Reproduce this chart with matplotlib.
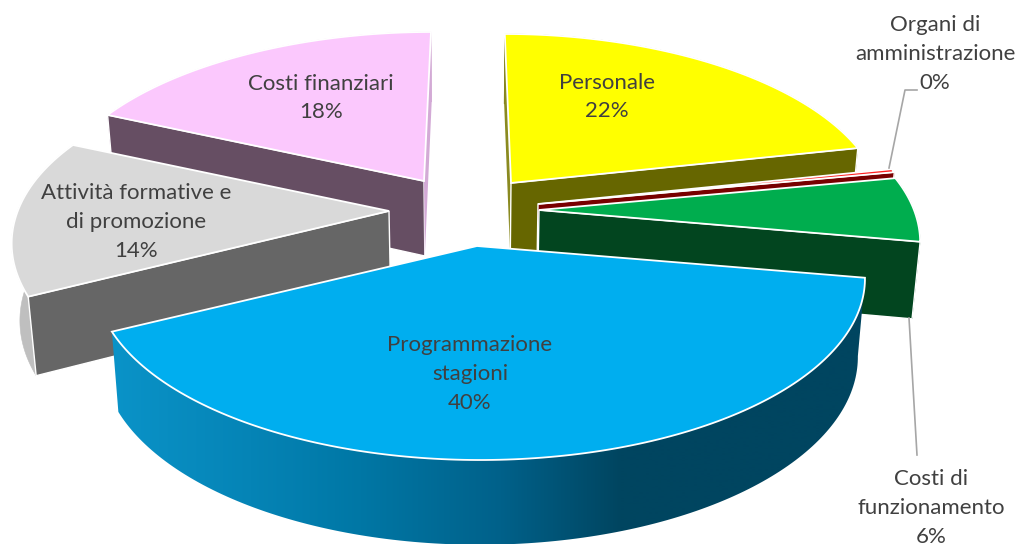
import numpy as np
import matplotlib
matplotlib.use("Agg")
import matplotlib.pyplot as plt
from matplotlib.colors import to_rgb
from matplotlib.patches import Polygon

plt.rcParams["font.family"] = ["Lato", "DejaVu Sans"]

# data, clockwise from twelve o'clock
names = ["Personale", "Organi di\namministrazione", "Costi di\nfunzionamento",
         "Programmazione\nstagioni", "Attività formative e\ndi promozione",
         "Costi finanziari"]
values = [21.7, 0.3, 5.8, 39.8, 14.0, 18.4]
top_colors = ["#ffff00", "#ff2020", "#00ad4e", "#00aeef", "#d9d9d9", "#fbc8fd"]
face_colors = ["#666600", "#780000", "#02451f", "#004560", "#666666", "#664e63"]
arc_colors = ["#666600", "#780000", "#02451f", "#004560", "#bfbfbf", "#cfa3d0"]
thin_colors = ["#8a8a20", "#780000", "#02451f", "#004560", "#666666", "#d3aad6"]

# where each exploded slice has its tip, in pixels
tips = [(511, 183), (538, 204), (539, 210), (477, 246), (389, 211), (424, 181)]
x_scale = [0.98, 1.0, 1.0, 1.01, 0.99, 0.99]
x_nudge = [0, 0, 0, 3, 0, 0]
label_pos = [(607, 97), (935, 54), (931, 508), (470, 374), (136, 222), (321, 98)]
draw_order = [5, 0, 1, 2, 4, 3]

A, B, P = 375.0, 175.7, 0.179   # ellipse size and perspective
XV = 470.0                      # vanishing x


def rim(i, theta):
    tip = tips[i]
    c, s = np.cos(theta), np.sin(theta)
    w = 1 + P * c
    shift = (XV - tip[0]) * (1 - 1 / w) * (c > 0) * c**2
    return tip[0] + x_nudge[i] + x_scale[i] * A * s / w + shift, tip[1] - B * c / w


def drop(x, y):
    # same point on the lower face of the disc
    y = np.asarray(y, dtype=float)
    return x + (XV - x) * 0.018, y + 75 + (y - 181) * 0.035


def blue_gradient():
    # side shading of the big slice runs left to right
    xs = [113, 250, 360, 500, 620, 870]
    rgb = np.array([to_rgb(c) for c in
                    ["#0a93c8", "#0584b6", "#0077a5", "#00618a", "#004560", "#004560"]])
    grid = np.arange(100, 880)
    return np.stack([np.interp(grid, xs, rgb[:, k]) for k in range(3)], axis=-1)[None, :, :]


fig = plt.figure(figsize=(10.21, 5.44), dpi=100)
ax = fig.add_axes([0, 0, 1, 1])

bounds = np.cumsum([0] + values) / sum(values) * 2 * np.pi

for order, i in enumerate(draw_order):
    tip = tips[i]
    base = 1 + order * 3
    th = np.linspace(bounds[i], bounds[i + 1], 160)
    xr, yr = rim(i, th)
    xb, yb = drop(xr, yr)

    # outer side
    side = np.c_[np.r_[xr, xb[::-1]], np.r_[yr, yb[::-1]]]
    if i == 3:
        im = ax.imshow(blue_gradient(), extent=(100, 880, 544, 200), aspect="auto",
                       zorder=base, interpolation="bilinear")
        im.set_clip_path(Polygon(side, transform=ax.transData))
    else:
        ax.fill(side[:, 0], side[:, 1], fc=arc_colors[i], ec=arc_colors[i], lw=0.4, zorder=base)

    # cut faces, only those turned towards the viewer
    for k, sign in ((0, -1), (-1, 1)):
        tx, ty = drop(tip[0], tip[1])
        px = [tip[0], xr[k], xb[k], tx]
        py = [tip[1], yr[k], yb[k], ty]
        area = sum(px[n] * py[(n + 1) % 4] - px[(n + 1) % 4] * py[n] for n in range(4))
        if area * sign <= 0:
            continue
        narrow = abs(px[0] - px[1]) < 20
        ax.fill(px, py, fc=thin_colors[i] if narrow else face_colors[i],
                ec="none" if narrow else "white", lw=1.0, zorder=base + 1)

    # top
    ax.fill(np.r_[tip[0], xr], np.r_[tip[1], yr], fc=top_colors[i], ec="white",
            lw=1.3, joinstyle="miter", zorder=base + 2)

# leader lines
ax.plot([889, 905, 917], [168, 90, 90], color="#a6a6a6", lw=1.2, zorder=30)
ax.plot([909, 917], [318, 455], color="#a6a6a6", lw=1.2, zorder=30)

for name, v, (x, y) in zip(names, values, label_pos):
    ax.text(x, y, "%s\n%d%%" % (name, round(v)), ha="center", va="center",
            color="#404040", fontsize=16, linespacing=1.55, zorder=40)

ax.set_xlim(0, 1021)
ax.set_ylim(544, 0)
ax.axis("off")
fig.savefig("out.png", dpi=100)
